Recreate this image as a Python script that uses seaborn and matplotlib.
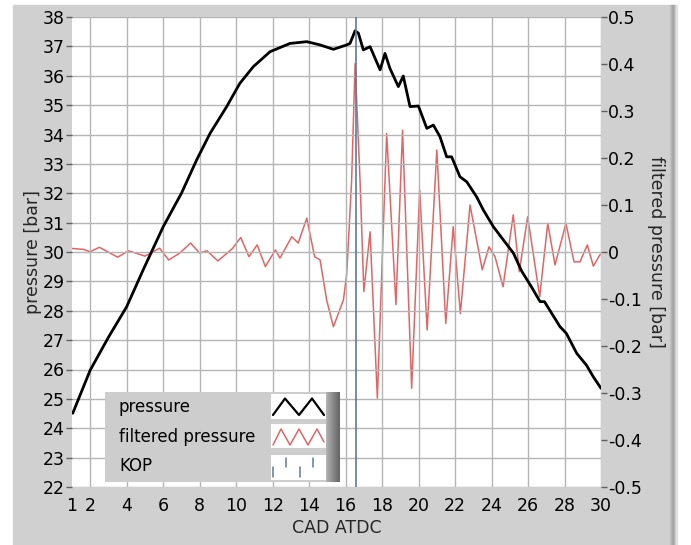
import numpy as np
import pandas as pd
import matplotlib
matplotlib.use("Agg")
import matplotlib.pyplot as plt
import seaborn as sns
from matplotlib.patches import Rectangle

# ---------------- data ----------------
cad_p = [1.04, 2.0, 3.0, 4.0, 4.9, 6.0, 7.0, 7.83, 8.57, 9.48, 10.2, 10.94, 11.86,
         12.95, 13.87, 14.6, 15.33, 16.06, 16.24, 16.52, 16.7, 16.97, 17.34, 17.89,
         18.16, 18.43, 18.89, 19.16, 19.53, 19.99, 20.45, 20.81, 21.17, 21.54, 21.81,
         22.27, 22.64, 23.18, 23.55, 24.1, 24.65, 25.2, 25.65, 26.2, 26.66, 26.9,
         27.75, 28.1, 28.67, 29.2, 29.58, 30.0]
pressure = [24.51, 25.98, 27.1, 28.14, 29.39, 30.86, 32.0, 33.13, 34.04, 34.95, 35.74,
            36.31, 36.82, 37.10, 37.16, 37.05, 36.90, 37.05, 37.1, 37.53, 37.45, 36.88,
            36.99, 36.20, 36.76, 36.25, 35.63, 35.99, 34.95, 34.97, 34.21, 34.32, 33.93,
            33.24, 33.24, 32.56, 32.39, 31.88, 31.43, 30.86, 30.41, 29.96, 29.35, 28.8,
            28.31, 28.31, 27.46, 27.23, 26.55, 26.15, 25.75, 25.36]

cad_f = [1.0, 1.62, 2.0, 2.5, 3.1, 3.5, 4.1, 5.0, 5.3, 5.8, 6.3, 6.9, 7.5, 8.0, 8.4,
         9.0, 9.8, 10.25, 10.7, 11.15, 11.6, 12.15, 12.4, 13.05, 13.4, 13.87, 14.3,
         14.6, 14.96, 15.33, 15.88, 16.06, 16.33, 16.52, 16.79, 17.0, 17.34, 17.74, 18.25,
         18.76, 19.12, 19.62, 20.06, 20.47, 21.0, 21.49, 21.9, 22.29, 22.82, 23.49,
         23.86, 24.19, 24.63, 25.19, 25.52, 25.98, 26.64, 27.08, 27.48, 28.08, 28.52,
         28.85, 29.25, 29.58, 29.94, 30.0]
filtered = [0.0075, 0.0056, 0.0006, 0.010, -0.0025, -0.011, 0.0025, -0.0088, -0.0025,
            0.008, -0.017, -0.0025, 0.019, -0.0025, 0.0025, -0.019, 0.0075, 0.031,
            -0.010, 0.015, -0.031, 0.0044, -0.013, 0.0325, 0.019, 0.072, -0.010,
            -0.017, -0.102, -0.159, -0.102, -0.046, 0.153, 0.401, 0.153, -0.084, 0.043,
            -0.311, 0.252, -0.112, 0.259, -0.290, 0.132, -0.166, 0.217, -0.152,
            0.054, -0.131, 0.100, -0.038, 0.011, -0.010, -0.074, 0.079, -0.042,
            0.075, -0.095, 0.061, -0.0275, 0.061, -0.021, -0.021, 0.015, -0.030,
            -0.006, -0.005]

kop_cad = 16.55

x_ticks = [1, 2, 4, 6, 8, 10, 12, 14, 16, 18, 20, 22, 24, 26, 28, 30]
left_ticks = list(range(22, 39))
right_ticks = [-0.5, -0.4, -0.3, -0.2, -0.1, 0.0, 0.1, 0.2, 0.3, 0.4, 0.5]
right_labels = ["-0.5", "-0.4", "-0.3", "-0.2", "-0.1", "0", "0.1", "0.2", "0.3", "0.4", "0.5"]

df_p = pd.DataFrame({"cad": cad_p, "pressure": pressure})
df_f = pd.DataFrame({"cad": cad_f, "filtered": filtered})

# ---------------- figure ----------------
sns.set_theme(style="white")
plt.rcParams["font.family"] = ["DejaVu Sans"]

W, H = 691, 545
fig = plt.figure(figsize=(W / 100, H / 100), dpi=100, facecolor="white")

panel_col = "#d0d0d0"
fig.patches.append(Rectangle((13 / W, 0), (670 - 13) / W, 1 - 5 / H,
                             transform=fig.transFigure, color=panel_col, zorder=-10))
for i, c in enumerate(["#c4c4c4", "#b8b8b8", "#acacac", "#a0a0a0", "#b0b0b0", "#c8c8c8", "#e0e0e0"]):
    fig.patches.append(Rectangle(((670 + i) / W, 0), 1 / W, 1 - 5 / H,
                                 transform=fig.transFigure, color=c, zorder=-10))

left, right, top, bottom = 72, 601, 17, 487
ax = fig.add_axes([left / W, 1 - bottom / H, (right - left) / W, (bottom - top) / H])
ax2 = ax.twinx()

ax.set_zorder(ax2.get_zorder() + 1)
ax.patch.set_visible(False)
ax2.patch.set_facecolor("white")
ax2.patch.set_visible(True)

red = "#e46464"
sns.lineplot(data=df_f, x="cad", y="filtered", ax=ax2, color=red, linewidth=1.1,
             legend=False)
sns.lineplot(data=df_p, x="cad", y="pressure", ax=ax, color="black", linewidth=2.0,
             legend=False)
ax.axvline(kop_cad, color="#5b7a9e", linewidth=1.2, zorder=3)

ax.set_xlim(1, 30)
ax.set_ylim(22, 38)
ax2.set_ylim(-0.5, 0.5)

ax.set_xticks(x_ticks)
ax.set_xticklabels([str(t) for t in x_ticks])
ax.set_yticks(left_ticks)
ax.set_yticklabels([str(t) for t in left_ticks])
ax2.set_yticks(right_ticks)
ax2.set_yticklabels(right_labels)

grid_col = "#b5b5b5"
for gx in x_ticks[1:]:
    ax.axvline(gx, color=grid_col, linewidth=1.0, zorder=0)
for gy in left_ticks:
    ax.axhline(gy, color=grid_col, linewidth=1.0, zorder=0)

for a in (ax, ax2):
    for s in a.spines.values():
        s.set_visible(False)
    a.tick_params(direction="out", length=4, width=1, color="#606060",
                  labelsize=12.5, labelcolor="black", pad=1)

ax.tick_params(axis="x", pad=3)
ax.set_xlabel("CAD ATDC", fontsize=12.5, labelpad=3)
ax.set_ylabel("pressure [bar]", fontsize=12.5, labelpad=1)
ax2.set_ylabel("filtered pressure [bar]", fontsize=12.5, rotation=270, labelpad=17)

# ---------------- legend ----------------
lx0, lx1, ly0, ly1 = 105, 340, 392, 482
lg = fig.add_axes([lx0 / W, 1 - ly1 / H, (lx1 - lx0) / W, (ly1 - ly0) / H])
lg.set_zorder(ax.get_zorder() + 2)
lw_, lh_ = lx1 - lx0, ly1 - ly0
lg.axis("off")
lg.add_patch(Rectangle((0, 0), lw_, lh_, color="#cdcdcd", zorder=0))
grad = np.linspace(0, 1, 20)[None, :]
lg.imshow(grad, extent=(lw_ - 14, lw_, lh_, 0), cmap="Greys", vmin=-1.5, vmax=2.2,
          aspect="auto", zorder=1)
lg.set_xlim(0, lw_)
lg.set_ylim(lh_, 0)

labels = ["pressure", "filtered pressure", "KOP"]
row_y = [14.7, 44.7, 74]
boxes = [(1.5, 27), (32, 56), (63, 88)]
bx0, bx1 = 166, 221
for lab, ry, (b0, b1) in zip(labels, row_y, boxes):
    lg.text(14, ry, lab, fontsize=12, va="center", ha="left", color="black")
    lg.add_patch(Rectangle((bx0, b0), bx1 - bx0, b1 - b0, facecolor="white",
                           edgecolor="none", zorder=2))

b0, b1 = boxes[0]
lg.plot([bx0 + 2, bx0 + 14, bx0 + 28, bx0 + 41, bx0 + 53],
        [b1 - 4, b0 + 5, b1 - 4, b0 + 5, b1 - 4], color="black", lw=1.6, zorder=3)
b0, b1 = boxes[1]
lg.plot([bx0 + 2, bx0 + 10, bx0 + 19, bx0 + 28, bx0 + 37, bx0 + 46, bx0 + 53],
        [b1 - 3, b0 + 5, b1 - 3, b0 + 5, b1 - 3, b0 + 5, b1 - 6], color=red,
        lw=1.1, zorder=3)
b0, b1 = boxes[2]
for tx, (t0, t1) in zip([2, 15, 29, 42], [(12, 22), (3, 12), (12, 22), (3, 12)]):
    lg.plot([bx0 + tx, bx0 + tx], [b0 + t0, b0 + t1], color="#5b7a9e", lw=1.1, zorder=3)

fig.savefig("out.png", dpi=100, facecolor="white")
